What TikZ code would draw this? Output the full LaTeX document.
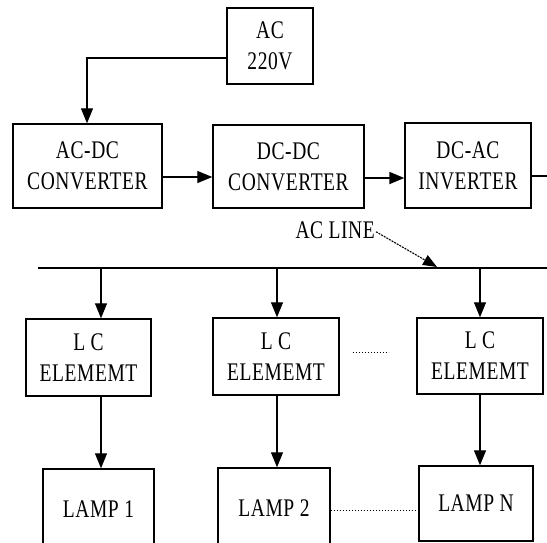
\documentclass[tikz,border=0pt]{standalone}
\usepackage{fontspec}
\usepackage{graphicx}
\setmainfont{Liberation Serif}[LetterSpace=3]
\usetikzlibrary{arrows.meta}
\newcommand{\tx}[1]{\scalebox{1}[1.3]{#1}}
\begin{document}
\begin{tikzpicture}[x=1pt,y=-1pt,
  blk/.style={draw,line width=1.4pt,rectangle,inner sep=0pt,align=center,
    font=\fontsize{19.5}{31}\selectfont},
  conn/.style={line width=1.1pt,-{Triangle[length=15pt,width=12pt]}},
  dots/.style={line width=1pt,dotted}]
\clip (0,0) rectangle (547,542);
\useasboundingbox (0,0) rectangle (547,542);
% top row
\node[blk,minimum width=86pt,minimum height=76pt] (ac) at (270,46) {\tx{AC}\\\tx{220V}};
\node[blk,minimum width=149pt,minimum height=84pt] (acdc) at (87.5,166) {\tx{AC-DC}\\\tx{CONVERTER}};
\node[blk,minimum width=151pt,minimum height=83pt] (dcdc) at (288.5,166.5) {\tx{DC-DC}\\\tx{CONVERTER}};
\node[blk,minimum width=126pt,minimum height=85pt] (dcac) at (468,165.5) {\tx{DC-AC}\\\tx{INVERTER}};
\coordinate (feed) at (87,58);
\draw[conn] (ac.west |- feed) -- (feed) -- (acdc.north -| feed);
\draw[conn] (acdc.east |- 0,177) -- (dcdc.west |- 0,177);
\draw[conn,line width=1.8pt] (dcdc.east |- 0,178) -- (dcac.west |- 0,178);
\coordinate (outR) at (547,176);
\draw[line width=1.1pt] (dcac.east |- outR) -- (outR);
% AC line
\coordinate (lineL) at (38,268);
\coordinate (lineR) at (547,268);
\draw[line width=1.5pt] (lineL) -- (lineR);
\node[font=\fontsize{19.5}{22}\selectfont,inner sep=1pt,anchor=base east] (aclab) at (376,238) {\tx{AC LINE}};
\coordinate (lineTip) at (437,267);
\draw[line width=1.1pt,dash pattern=on 2pt off 1pt,-{Triangle[length=14pt,width=11pt]}] ([yshift=-2pt]aclab.east) -- (lineTip);
% LC elements
\node[blk,minimum width=125pt,minimum height=77pt] (lc1) at (88.5,357.5) {\tx{L C}\\\tx{ELEMEMT}};
\node[blk,minimum width=126pt,minimum height=77pt] (lc2) at (276,356.5) {\tx{L C}\\\tx{ELEMEMT}};
\node[blk,minimum width=126pt,minimum height=76pt] (lc3) at (480,356) {\tx{L C}\\\tx{ELEMEMT}};
\coordinate (t1) at (101,268);
\coordinate (t2) at (277,268);
\coordinate (t3) at (480,268);
\draw[conn] (t1) -- (lc1.north -| t1);
\draw[conn] (t2) -- (lc2.north -| t2);
\draw[conn] (t3) -- (lc3.north -| t3);
\draw[dots] (lc2.east |- 0,352) ++(13,0) -- ++(36,0);
% lamps
\node[blk,minimum width=111pt,minimum height=80pt] (lamp1) at (98.5,509) {\tx{LAMP 1}};
\node[blk,minimum width=112pt,minimum height=80pt] (lamp2) at (274,508) {\tx{LAMP 2}};
\node[blk,minimum width=114pt,minimum height=75pt] (lampn) at (476,503.5) {\tx{LAMP N}};
\draw[conn] (lc1.south -| t1) -- (lamp1.north -| t1);
\draw[conn] (lc2.south -| t2) -- (lamp2.north -| t2);
\draw[conn] (lc3.south -| t3) -- (lampn.north -| t3);
\draw[dots] (lamp2.east |- 0,510) -- (lampn.west |- 0,510);
\end{tikzpicture}
\end{document}
